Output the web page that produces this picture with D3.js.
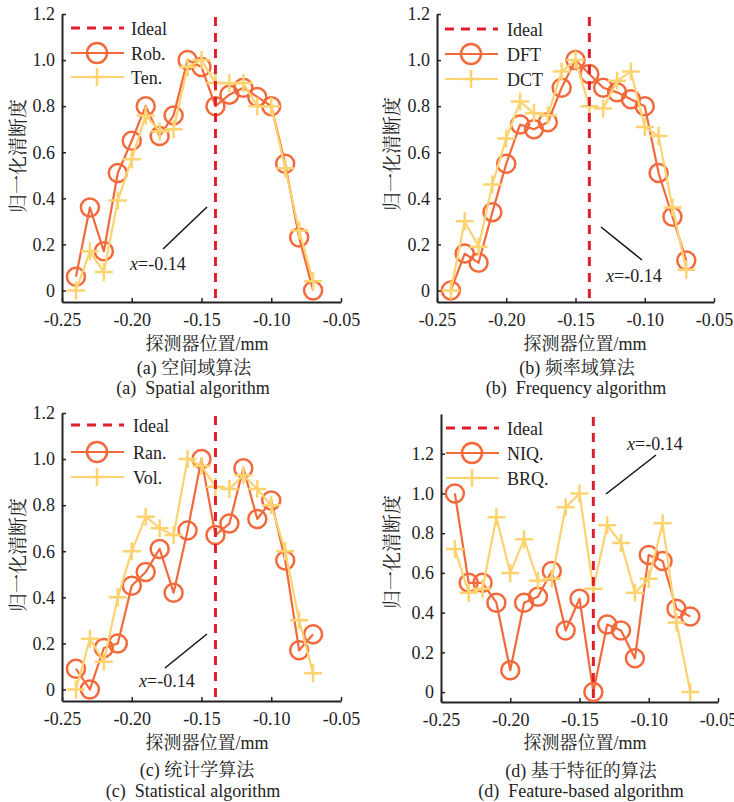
<!DOCTYPE html>
<html>
<head>
<meta charset="utf-8">
<script src="https://cdn.jsdelivr.net/npm/d3@7"></script>
<style>
  html, body { margin: 0; padding: 0; background: #fff; }
  svg { display: block; }
  text { font-family: 'Liberation Serif', 'Times New Roman', 'Noto Serif CJK SC', 'Noto Sans CJK SC', serif; fill: #222; }
</style>
</head>
<body>
<svg id="chart" width="734" height="802"></svg>
<script>
// ---------------- DATA ----------------
const xPositions = [-0.24, -0.23, -0.22, -0.21, -0.20, -0.19, -0.18, -0.17, -0.16, -0.15,
                    -0.14, -0.13, -0.12, -0.11, -0.10, -0.09, -0.08, -0.07];

const robValues = [0.06, 0.36, 0.17, 0.51, 0.65, 0.80, 0.67, 0.76, 1.00, 0.97, 0.80, 0.85, 0.88, 0.84, 0.80, 0.55, 0.23, 0.00];
const tenValues = [0.00, 0.17, 0.08, 0.39, 0.57, 0.76, 0.69, 0.70, 0.97, 1.00, 0.90, 0.90, 0.90, 0.80, 0.80, 0.53, 0.26, 0.04];

const dftValues = [0.00, 0.16, 0.12, 0.34, 0.55, 0.72, 0.70, 0.73, 0.88, 1.00, 0.94, 0.88, 0.86, 0.83, 0.80, 0.51, 0.32, 0.13];
const dctValues = [0.00, 0.30, 0.19, 0.46, 0.66, 0.82, 0.77, 0.76, 0.95, 1.00, 0.80, 0.79, 0.91, 0.95, 0.71, 0.67, 0.36, 0.09];

const ranValues = [0.09, 0.00, 0.18, 0.20, 0.45, 0.51, 0.61, 0.42, 0.69, 1.00, 0.67, 0.72, 0.96, 0.74, 0.82, 0.56, 0.17, 0.24];
const volValues = [0.00, 0.22, 0.12, 0.40, 0.60, 0.75, 0.70, 0.67, 1.00, 0.97, 0.88, 0.87, 0.93, 0.87, 0.80, 0.60, 0.30, 0.07];

const niqValues = [1.00, 0.55, 0.55, 0.45, 0.11, 0.45, 0.48, 0.61, 0.31, 0.47, 0.00, 0.34, 0.31, 0.17, 0.69, 0.66, 0.42, 0.38];
const brqValues = [0.72, 0.50, 0.52, 0.88, 0.60, 0.77, 0.56, 0.57, 0.93, 1.00, 0.52, 0.84, 0.75, 0.50, 0.57, 0.85, 0.35, 0.00];

const idealPosition = -0.14;
const idealLabel = "Ideal";
const annotationLabel = "=-0.14";

const xTickValues = [-0.25, -0.20, -0.15, -0.10, -0.05];
const xTickLabels = ["-0.25", "-0.20", "-0.15", "-0.10", "-0.05"];
const yTickValues = [0, 0.2, 0.4, 0.6, 0.8, 1.0, 1.2];
const yTickLabels = ["0", "0.2", "0.4", "0.6", "0.8", "1.0", "1.2"];

const seriesNamesA = ["Rob.", "Ten."];
const seriesNamesB = ["DFT", "DCT"];
const seriesNamesC = ["Ran.", "Vol."];
const seriesNamesD = ["NIQ.", "BRQ."];

const captionsCN = ["(a) 空间域算法", "(b) 频率域算法", "(c) 统计学算法", "(d) 基于特征的算法"];
const captionsEN = ["(a)\u00a0\u00a0Spatial algorithm", "(b)\u00a0\u00a0Frequency algorithm",
                    "(c)\u00a0\u00a0Statistical algorithm", "(d)\u00a0\u00a0Feature-based algorithm"];
const yAxisLabel = "归一化清断度";
const xAxisLabel = "探测器位置/mm";

// ---------------- STYLE ----------------
const colorA = "#f26a3c";   // circles series
const colorB = "#fdd370";   // plus series
const colorIdeal = "#e01f2d";

// ---------------- LAYOUT ----------------
const panels = [
  { names: seriesNamesA, s1: robValues, s2: tenValues, yDomain: [-0.05, 1.2],
    xr: [62, 341], yr: [302, 14], legX: 71, legY: [28, 53, 77], legTextX: 131,
    ylab: [18, 156], xlab: [207, 350], cap1: [194, 374], cap2: [193, 394],
    ann: { line: [163, 249, 207, 207], text: [130, 270] } },
  { names: seriesNamesB, s1: dftValues, s2: dctValues, yDomain: [-0.05, 1.2],
    xr: [437, 714], yr: [302, 14], legX: 445, legY: [29, 54, 79], legTextX: 507,
    ylab: [392, 154], xlab: [585, 350], cap1: [577, 374], cap2: [576, 394],
    ann: { line: [601, 227, 642, 260], text: [606, 282] } },
  { names: seriesNamesC, s1: ranValues, s2: volValues, yDomain: [-0.05, 1.2],
    xr: [62, 341], yr: [701, 413], legX: 71, legY: [425, 452, 477], legTextX: 133,
    ylab: [18, 555], xlab: [207, 749], cap1: [197, 776], cap2: [193, 797],
    ann: { line: [165, 668, 207, 634], text: [139, 687] } },
  { names: seriesNamesD, s1: niqValues, s2: brqValues, yDomain: [-0.05, 1.4],
    xr: [441, 718], yr: [702, 414], legX: 446, legY: [428, 453, 478], legTextX: 507,
    ylab: [392, 552], xlab: [585, 749], cap1: [581, 777], cap2: [581, 797],
    ann: { line: [606, 494, 656, 455], text: [627, 450] } }
];

const svg = d3.select("#chart");

panels.forEach((p, i) => {
  const g = svg.append("g");
  const x = d3.scaleLinear().domain([-0.25, -0.05]).range(p.xr);
  const y = d3.scaleLinear().domain(p.yDomain).range(p.yr);

  // axes
  const xAxis = d3.axisBottom(x).tickValues(xTickValues)
    .tickFormat((d, k) => xTickLabels[k]).tickSizeInner(-4).tickSizeOuter(0).tickPadding(11);
  const gx = g.append("g").attr("transform", `translate(0,${p.yr[0]})`).call(xAxis);
  const yAxis = d3.axisLeft(y).tickValues(yTickValues)
    .tickFormat((d, k) => yTickLabels[k]).tickSizeInner(-4).tickSizeOuter(0).tickPadding(7);
  const gy = g.append("g").attr("transform", `translate(${p.xr[0]},0)`).call(yAxis);
  [gx, gy].forEach(a => {
    a.select(".domain").attr("stroke", "#222").attr("stroke-width", 2);
    a.selectAll(".tick line").attr("stroke", "#222").attr("stroke-width", 1.5);
    a.selectAll(".tick text").attr("font-size", 18).attr("fill", "#222")
      .style("font-family", "'Liberation Serif', serif");
  });

  // series
  const line = d3.line().x((d, k) => x(xPositions[k])).y(d => y(d));
  g.append("path").datum(p.s1).attr("d", line).attr("fill", "none")
    .attr("stroke", colorA).attr("stroke-width", 2.2).attr("stroke-linejoin", "round");
  g.selectAll(".circ").data(p.s1).enter().append("circle")
    .attr("cx", (d, k) => x(xPositions[k])).attr("cy", d => y(d)).attr("r", 9)
    .attr("fill", "none").attr("stroke", colorA).attr("stroke-width", 2.5);

  g.append("path").datum(p.s2).attr("d", line).attr("fill", "none")
    .attr("stroke", colorB).attr("stroke-width", 2.2).attr("stroke-linejoin", "round");
  g.selectAll(".plus").data(p.s2).enter().append("path")
    .attr("transform", (d, k) => `translate(${x(xPositions[k])},${y(d)})`)
    .attr("d", "M-9,0H9M0,-9V9").attr("stroke", colorB).attr("stroke-width", 2.5);

  // ideal line
  g.append("line").attr("x1", x(idealPosition)).attr("x2", x(idealPosition))
    .attr("y1", p.yr[1] + 3).attr("y2", p.yr[0] - 1)
    .attr("stroke", colorIdeal).attr("stroke-width", 3).attr("stroke-dasharray", "9,7");

  // annotation
  const a = p.ann;
  g.append("line").attr("x1", a.line[0]).attr("y1", a.line[1]).attr("x2", a.line[2]).attr("y2", a.line[3])
    .attr("stroke", "#111").attr("stroke-width", 1.5);
  const at = g.append("text").attr("x", a.text[0]).attr("y", a.text[1]).attr("font-size", 18);
  at.append("tspan").attr("font-style", "italic").text("x");
  at.append("tspan").text(annotationLabel);

  // legend
  const lx0 = p.legX, lx1 = p.legX + 53, lmid = p.legX + 26;
  g.append("line").attr("x1", lx0).attr("x2", lx1).attr("y1", p.legY[0]).attr("y2", p.legY[0])
    .attr("stroke", colorIdeal).attr("stroke-width", 3).attr("stroke-dasharray", "9,7");
  g.append("line").attr("x1", lx0).attr("x2", lx1).attr("y1", p.legY[1]).attr("y2", p.legY[1])
    .attr("stroke", colorA).attr("stroke-width", 2.2);
  g.append("circle").attr("cx", lmid).attr("cy", p.legY[1]).attr("r", 10)
    .attr("fill", "none").attr("stroke", colorA).attr("stroke-width", 2.5);
  g.append("line").attr("x1", lx0).attr("x2", lx1).attr("y1", p.legY[2]).attr("y2", p.legY[2])
    .attr("stroke", colorB).attr("stroke-width", 2.2);
  g.append("path").attr("transform", `translate(${lmid},${p.legY[2]})`)
    .attr("d", "M-9,0H9M0,-9V9").attr("stroke", colorB).attr("stroke-width", 2.5);
  const legLabels = [idealLabel, p.names[0], p.names[1]];
  legLabels.forEach((t, k) => {
    g.append("text").attr("x", p.legTextX).attr("y", p.legY[k] + 7).attr("font-size", 18).text(t);
  });

  // axis labels
  g.append("text").attr("transform", `translate(${p.ylab[0]},${p.ylab[1]}) rotate(-90)`)
    .attr("text-anchor", "middle").attr("dominant-baseline", "central").attr("font-size", 19)
    .text(yAxisLabel);
  g.append("text").attr("x", p.xlab[0]).attr("y", p.xlab[1]).attr("text-anchor", "middle")
    .attr("font-size", 18).text(xAxisLabel);

  // captions
  g.append("text").attr("x", p.cap1[0]).attr("y", p.cap1[1]).attr("text-anchor", "middle")
    .attr("font-size", 18).text(captionsCN[i]);
  g.append("text").attr("x", p.cap2[0]).attr("y", p.cap2[1]).attr("text-anchor", "middle")
    .attr("font-size", 18).text(captionsEN[i]);
});
</script>
</body>
</html>
